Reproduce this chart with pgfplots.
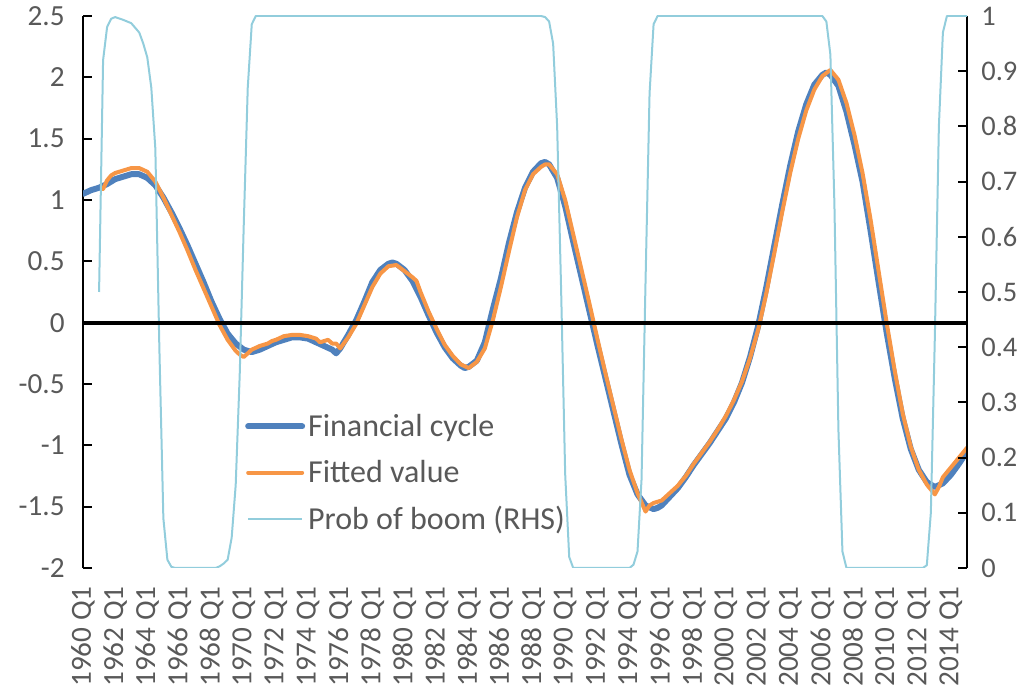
\documentclass[border=0pt]{standalone}
\usepackage{pgfplots}
\pgfplotsset{compat=1.18}
\usepackage{fontspec}
\setmainfont{Carlito}
\definecolor{fcblue}{RGB}{79,129,189}
\definecolor{fitorange}{RGB}{247,150,70}
\definecolor{problue}{RGB}{146,205,220}
\definecolor{txtgray}{RGB}{89,89,89}
\begin{document}
\begin{tikzpicture}
\begin{axis}[
  at={(0,0)}, anchor=south west,
  width=442pt, height=276pt, scale only axis,
  xmin=1960, xmax=2015, ymin=-2, ymax=2.5,
  axis x line*=bottom, axis y line*=left,
  x axis line style={draw=none},
  y axis line style={line width=1pt, black},
  xtick={1960,1962,1964,1966,1968,1970,1972,1974,1976,1978,1980,1982,1984,1986,1988,1990,1992,1994,1996,1998,2000,2002,2004,2006,2008,2010,2012,2014},
  xticklabels={1960 Q1,1962 Q1,1964 Q1,1966 Q1,1968 Q1,1970 Q1,1972 Q1,1974 Q1,1976 Q1,1978 Q1,1980 Q1,1982 Q1,1984 Q1,1986 Q1,1988 Q1,1990 Q1,1992 Q1,1994 Q1,1996 Q1,1998 Q1,2000 Q1,2002 Q1,2004 Q1,2006 Q1,2008 Q1,2010 Q1,2012 Q1,2014 Q1},
  xticklabel style={rotate=90, anchor=east, inner sep=0pt, font=\fontsize{14.6pt}{17pt}\selectfont, text=txtgray},
  xticklabel shift=9pt,
  major x tick style={draw=none},
  ytick={-2,-1.5,-1,-0.5,0,0.5,1,1.5,2,2.5},
  yticklabels={-2,-1.5,-1,-0.5,0,0.5,1,1.5,2,2.5},
  yticklabel style={anchor=east, inner sep=0pt, font=\fontsize{14.6pt}{17pt}\selectfont, text=txtgray},
  yticklabel shift=9pt,
  tick align=inside, major tick length=4.5pt,
  major y tick style={line width=1pt, black},
]
\addplot[fcblue, line width=3pt, line join=round, line cap=round] coordinates {
(1960.0,1.05) (1960.5,1.08) (1961.0,1.10) (1961.5,1.13) (1962.0,1.17) (1962.5,1.19)
(1963.0,1.21) (1963.5,1.21) (1964.0,1.18) (1964.5,1.12) (1965.0,1.02) (1965.5,0.90)
(1966.0,0.77) (1966.5,0.63) (1967.0,0.48) (1967.5,0.33) (1968.0,0.17) (1968.5,0.03)
(1969.0,-0.09) (1969.5,-0.17) (1970.0,-0.22) (1970.5,-0.24) (1971.0,-0.22) (1971.5,-0.19)
(1972.0,-0.16) (1972.5,-0.14) (1973.0,-0.12) (1973.5,-0.12) (1974.0,-0.13) (1974.5,-0.16)
(1975.0,-0.19) (1975.5,-0.22) (1975.75,-0.25) (1976.0,-0.21) (1976.5,-0.10) (1977.0,0.02)
(1977.5,0.17) (1978.0,0.33) (1978.5,0.43) (1979.0,0.48) (1979.25,0.49) (1979.5,0.48)
(1980.0,0.43) (1980.5,0.34) (1981.0,0.21) (1981.5,0.06) (1982.0,-0.08) (1982.5,-0.20)
(1983.0,-0.29) (1983.5,-0.35) (1983.75,-0.37) (1984.0,-0.36) (1984.5,-0.31) (1985.0,-0.16)
(1985.5,0.11) (1986.0,0.36) (1986.5,0.65) (1987.0,0.90) (1987.5,1.10) (1988.0,1.23)
(1988.5,1.30) (1988.75,1.31) (1989.0,1.29) (1989.5,1.18) (1990.0,0.95) (1990.5,0.66)
(1991.0,0.38) (1991.5,0.10) (1992.0,-0.18) (1992.5,-0.45) (1993.0,-0.72) (1993.5,-0.99)
(1994.0,-1.24) (1994.5,-1.40) (1995.0,-1.49) (1995.5,-1.52) (1995.75,-1.51) (1996.0,-1.49)
(1996.5,-1.42) (1997.0,-1.35) (1997.5,-1.26) (1998.0,-1.16) (1998.5,-1.07) (1999.0,-0.98)
(1999.5,-0.88) (2000.0,-0.78) (2000.5,-0.65) (2001.0,-0.49) (2001.5,-0.28) (2002.0,-0.03)
(2002.5,0.28) (2003.0,0.62) (2003.5,0.96) (2004.0,1.28) (2004.5,1.56) (2005.0,1.78)
(2005.5,1.94) (2006.0,2.02) (2006.25,2.04) (2006.5,2.02) (2007.0,1.93) (2007.5,1.72)
(2008.0,1.45) (2008.5,1.15) (2009.0,0.75) (2009.5,0.33) (2010.0,-0.08) (2010.5,-0.45)
(2011.0,-0.78) (2011.5,-1.03) (2012.0,-1.20) (2012.5,-1.30) (2013.0,-1.34) (2013.5,-1.31)
(2014.0,-1.24) (2014.5,-1.15) (2015.0,-1.05)
};
\addplot[fitorange, line width=2pt, line join=round, line cap=round] coordinates {
(1961.25,1.09) (1961.5,1.16) (1961.75,1.20) (1962.0,1.22) (1962.5,1.24) (1963.0,1.26)
(1963.5,1.26) (1964.0,1.23) (1964.5,1.15) (1965.0,1.02) (1965.5,0.88) (1966.0,0.74)
(1966.5,0.59) (1967.0,0.43) (1967.5,0.28) (1968.0,0.13) (1968.5,-0.02) (1969.0,-0.14)
(1969.5,-0.23) (1969.75,-0.26) (1970.0,-0.28) (1970.25,-0.25) (1970.5,-0.22) (1971.0,-0.19)
(1971.5,-0.17) (1971.75,-0.15) (1972.0,-0.14) (1972.5,-0.11) (1973.0,-0.10) (1973.5,-0.10)
(1974.0,-0.11) (1974.5,-0.13) (1974.75,-0.16) (1975.0,-0.15) (1975.25,-0.14) (1975.5,-0.17)
(1975.75,-0.17) (1976.0,-0.21) (1976.5,-0.12) (1977.0,-0.01) (1977.5,0.14) (1978.0,0.29)
(1978.5,0.40) (1979.0,0.46) (1979.5,0.47) (1980.0,0.42) (1980.5,0.37) (1980.75,0.34)
(1981.0,0.25) (1981.5,0.09) (1982.0,-0.05) (1982.5,-0.18) (1983.0,-0.27) (1983.5,-0.34)
(1984.0,-0.37) (1984.5,-0.32) (1985.0,-0.21) (1985.5,0.02) (1986.0,0.29) (1986.5,0.58)
(1987.0,0.86) (1987.5,1.08) (1988.0,1.21) (1988.5,1.27) (1988.75,1.29) (1989.0,1.29)
(1989.5,1.21) (1990.0,1.00) (1990.5,0.72) (1991.0,0.44) (1991.5,0.16) (1992.0,-0.13)
(1992.5,-0.41) (1993.0,-0.68) (1993.5,-0.95) (1994.0,-1.20) (1994.5,-1.39) (1995.0,-1.54)
(1995.25,-1.49) (1995.5,-1.47) (1996.0,-1.45) (1996.5,-1.39) (1997.0,-1.33) (1997.5,-1.25)
(1998.0,-1.15) (1998.5,-1.06) (1999.0,-0.97) (1999.5,-0.87) (2000.0,-0.76) (2000.5,-0.63)
(2001.0,-0.48) (2001.5,-0.29) (2002.0,-0.06) (2002.5,0.23) (2003.0,0.56) (2003.5,0.90)
(2004.0,1.22) (2004.5,1.50) (2005.0,1.73) (2005.5,1.90) (2006.0,2.01) (2006.5,2.06)
(2007.0,1.98) (2007.5,1.79) (2008.0,1.53) (2008.5,1.22) (2009.0,0.84) (2009.5,0.42)
(2010.0,0.00) (2010.5,-0.39) (2011.0,-0.74) (2011.5,-1.01) (2012.0,-1.20) (2012.5,-1.32)
(2013.0,-1.40) (2013.25,-1.34) (2013.5,-1.26) (2014.0,-1.18) (2014.5,-1.10) (2015.0,-1.02)
};
\end{axis}
\begin{axis}[
  at={(0,0)}, anchor=south west,
  width=442pt, height=276pt, scale only axis,
  xmin=1960, xmax=2015, ymin=0, ymax=1,
  axis x line=none, axis y line*=right,
  y axis line style={line width=1pt, black},
  ytick={0,0.1,0.2,0.3,0.4,0.5,0.6,0.7,0.8,0.9,1},
  yticklabels={0,0.1,0.2,0.3,0.4,0.5,0.6,0.7,0.8,0.9,1},
  yticklabel style={anchor=west, inner sep=0pt, font=\fontsize{14.2pt}{17pt}\selectfont, text=txtgray},
  yticklabel shift=7pt,
  tick align=inside, major tick length=4.5pt,
  major y tick style={line width=1pt, black},
  legend cell align=left,
  legend image code/.code={\draw[#1] (0pt,0pt) -- (27pt,0pt);},
  legend style={at={(rel axis cs:0.183,0.2855)}, anchor=north west, draw=none, fill=none,
    font=\fontsize{16pt}{19pt}\selectfont, text=txtgray, row sep=7.5pt, inner sep=0pt,
    nodes={inner sep=1.5pt}},
]
\addlegendimage{fcblue, line width=3pt, line cap=round}
\addlegendentry{Financial cycle}
\addlegendimage{fitorange, line width=2pt, line cap=round}
\addlegendentry{Fitted value}
\addplot[problue, line width=1pt, line join=round] coordinates {
(1961.0,0.50) (1961.25,0.92) (1961.5,0.98) (1961.75,0.995) (1962.0,0.998) (1962.5,0.993)
(1963.0,0.987) (1963.5,0.97) (1963.75,0.95) (1964.0,0.925) (1964.25,0.87) (1964.5,0.76)
(1964.75,0.40) (1965.0,0.09) (1965.25,0.015) (1965.5,0.002) (1965.75,0.0) (1968.25,0.0)
(1968.5,0.003) (1968.75,0.008) (1969.0,0.015) (1969.25,0.055) (1969.5,0.15) (1969.75,0.35)
(1970.0,0.62) (1970.25,0.87) (1970.5,0.985) (1970.75,1.0) (1988.5,1.0) (1988.75,0.998)
(1989.0,0.99) (1989.25,0.95) (1989.5,0.80) (1989.75,0.50) (1990.0,0.17) (1990.25,0.02)
(1990.5,0.0) (1994.0,0.0) (1994.25,0.006) (1994.5,0.03) (1994.75,0.16) (1995.0,0.52)
(1995.25,0.86) (1995.5,0.985) (1995.75,1.0) (2006.0,1.0) (2006.25,0.99) (2006.5,0.93)
(2006.75,0.66) (2007.0,0.25) (2007.25,0.03) (2007.5,0.0) (2012.25,0.0) (2012.5,0.005)
(2012.75,0.10) (2013.0,0.42) (2013.25,0.80) (2013.5,0.97) (2013.75,1.0) (2015.0,1.0)
};
\addlegendentry{Prob of boom (RHS)}
\draw[black, line width=2pt] (rel axis cs:0,0.444444) -- (rel axis cs:1,0.444444);
\end{axis}
\pgfresetboundingbox
\useasboundingbox (-41.5pt,-60pt) rectangle (469pt,284pt);
\end{tikzpicture}
\end{document}
